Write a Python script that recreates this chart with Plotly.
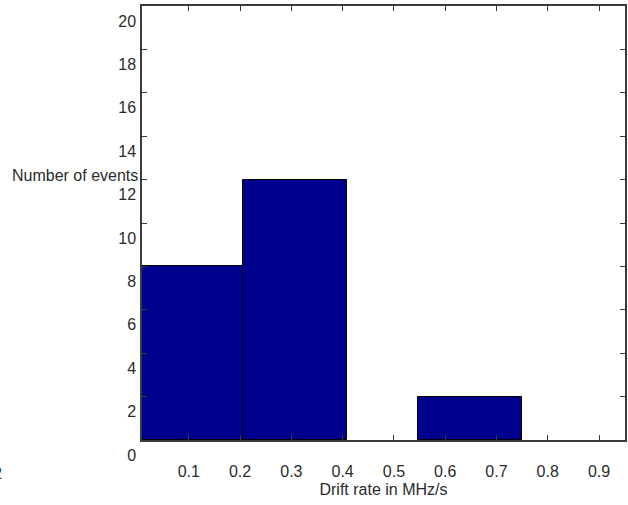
import plotly.graph_objects as go

# Histogram of drift rates (bin centres in MHz/s, counts per bin)
bin_centers = [0.104, 0.307, 0.649]
bin_width = 0.203
counts = [8, 12, 2]

x_ticks = [0.1, 0.2, 0.3, 0.4, 0.5, 0.6, 0.7, 0.8, 0.9]
x_tick_labels = ["0.1", "0.2", "0.3", "0.4", "0.5", "0.6", "0.7", "0.8", "0.9"]
y_ticks = [0, 2, 4, 6, 8, 10, 12, 14, 16, 18, 20]
y_tick_labels = [str(v) for v in y_ticks]

font_family = "Liberation Sans, Arial, sans-serif"
text_color = "#2b2b2b"
axis_color = "#3a3a3a"

fig = go.Figure(
    go.Bar(
        x=bin_centers,
        y=counts,
        width=[bin_width] * len(counts),
        marker=dict(color="#00008F", line=dict(color="#000000", width=1)),
        showlegend=False,
    )
)

fig.update_layout(
    width=628,
    height=505,
    margin=dict(l=142, r=1, t=6, b=65),
    paper_bgcolor="white",
    plot_bgcolor="white",
    font=dict(family=font_family, size=16, color=text_color),
    bargap=0,
    xaxis=dict(
        range=[0.0087, 0.9507],
        tickmode="array",
        tickvals=x_ticks,
        ticktext=x_tick_labels,
        ticks="inside",
        ticklen=5,
        tickcolor=axis_color,
        showline=True,
        linecolor=axis_color,
        linewidth=1.5,
        mirror="ticks",
        showgrid=False,
        zeroline=False,
        ticklabelstandoff=16,
        title=dict(text="Drift rate in MHz/s", standoff=5,
                   font=dict(size=16, color=text_color)),
    ),
    yaxis=dict(
        range=[0, 20],
        tickmode="array",
        tickvals=y_ticks,
        ticktext=y_tick_labels,
        ticks="inside",
        ticklen=5,
        tickcolor=axis_color,
        showline=True,
        linecolor=axis_color,
        linewidth=1.5,
        mirror="ticks",
        showgrid=False,
        zeroline=False,
        ticklabelshift=15,
        ticklabelstandoff=1,
    ),
    annotations=[
        dict(
            text="Number of events",
            xref="paper", yref="y",
            x=-0.004, y=12.2,
            xanchor="right", yanchor="middle",
            showarrow=False,
            font=dict(size=16, color=text_color),
        ),
        dict(
            text="2",
            xref="paper", yref="paper",
            x=-0.286, y=-0.078,
            xanchor="right", yanchor="middle",
            showarrow=False,
            font=dict(size=16, color=text_color),
        ),
    ],
)

fig.write_html("out.html")
